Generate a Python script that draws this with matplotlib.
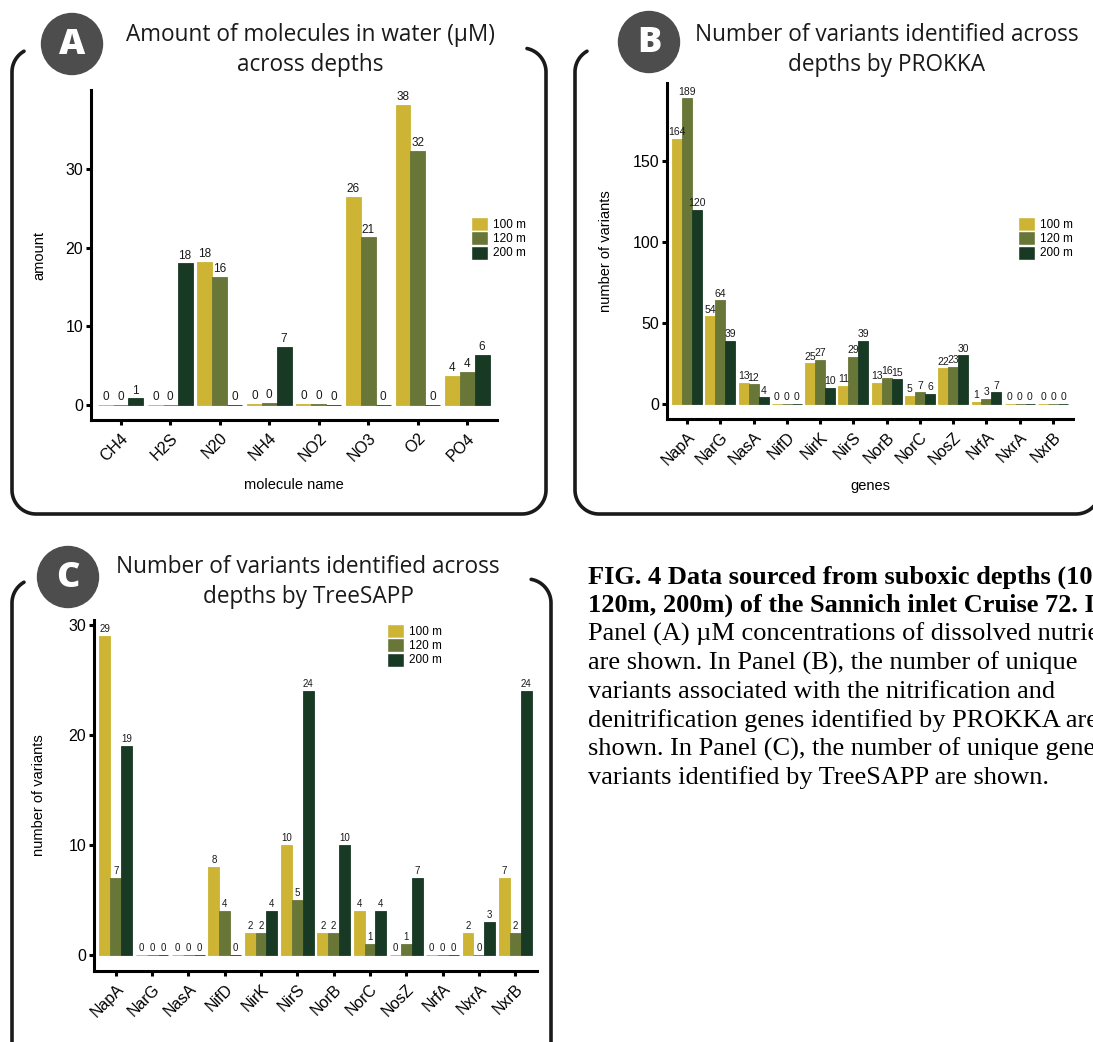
import numpy as np
import matplotlib
matplotlib.use('Agg')
import matplotlib.pyplot as plt
from matplotlib.patches import Patch, Circle

plt.rcParams['font.family'] = ['Liberation Sans', 'DejaVu Sans']

# depths and their fill colours
depths = ['100 m', '120 m', '200 m']
depth_colors = ['#cdb434', '#687638', '#183a24']

# panel A: dissolved molecules (uM)
molecules = ['CH4', 'H2S', 'N20', 'NH4', 'NO2', 'NO3', 'O2', 'PO4']
amount_100 = [0.02, 0.03, 18.2, 0.15, 0.15, 26.4, 38.1, 3.7]
amount_120 = [0.04, 0.04, 16.3, 0.25, 0.15, 21.3, 32.3, 4.2]
amount_200 = [0.85, 18.0, 0.04, 7.4, 0.05, 0.05, 0.04, 6.4]

# panels B and C: gene variants
genes = ['NapA', 'NarG', 'NasA', 'NifD', 'NirK', 'NirS',
         'NorB', 'NorC', 'NosZ', 'NrfA', 'NxrA', 'NxrB']
prokka_100 = [164, 54, 13, 0, 25, 11, 13, 5, 22, 1, 0, 0]
prokka_120 = [189, 64, 12, 0, 27, 29, 16, 7, 23, 3, 0, 0]
prokka_200 = [120, 39, 4, 0, 10, 39, 15, 6, 30, 7, 0, 0]

treesapp_100 = [29, 0, 0, 8, 2, 10, 2, 4, 0, 0, 2, 7]
treesapp_120 = [7, 0, 0, 4, 2, 5, 2, 1, 1, 0, 0, 2]
treesapp_200 = [19, 0, 0, 0, 4, 24, 10, 4, 7, 0, 3, 24]

caption = [
    ('FIG. 4 Data sourced from suboxic depths (100m,', 'bold'),
    ('120m, 200m) of the Sannich inlet Cruise 72. In', 'bold'),
    ('Panel (A) \u00b5M concentrations of dissolved nutrients', 'normal'),
    ('are shown. In Panel (B), the number of unique', 'normal'),
    ('variants associated with the nitrification and', 'normal'),
    ('denitrification genes identified by PROKKA are', 'normal'),
    ('shown. In Panel (C), the number of unique gene', 'normal'),
    ('variants identified by TreeSAPP are shown.', 'normal'),
]

W, H = 1093, 1042
fig = plt.figure(figsize=(W / 100, H / 100), dpi=100)

# full-figure layer in pixel units for frames, badges, titles, caption
ov = fig.add_axes([0, 0, 1, 1])
ov.set_xlim(0, W)
ov.set_ylim(H, 0)
ov.axis('off')


def arc(cx, cy, r, t0, t1):
    t = np.radians(np.linspace(t0, t1, 30))
    return np.column_stack([cx + r * np.cos(t), cy + r * np.sin(t)])


def frame(x0, y0, x1, y1, r=24, tl=240, tr=282):
    parts = [arc(x0 + r, y0 + r, r, tl, 180),
             arc(x0 + r, y1 - r, r, 180, 90),
             arc(x1 - r, y1 - r, r, 90, 0)]
    if tr is not None:
        parts.append(arc(x1 - r, y0 + r, r, 360, tr))
    pts = np.vstack(parts)
    ov.plot(pts[:, 0], pts[:, 1], color='#1a1a1a', lw=2.6,
            solid_capstyle='round', solid_joinstyle='round')


def badge(cx, cy, letter):
    ov.add_patch(Circle((cx, cy), 30.5, color='#4d4d4d'))
    ov.text(cx, cy + 1, letter, ha='center', va='center', color='white',
            fontsize=26, fontweight='heavy', family='Open Sans')


def title(cx, y1, y2, line1, line2):
    for y, s in ((y1, line1), (y2, line2)):
        ov.text(cx, y, s, ha='center', va='center', fontsize=16.3,
                family='Open Sans', color='#1a1a1a')


frame(12, 48, 546, 514)
frame(575, 48, 1100, 514, tr=None)
frame(12, 579, 551, 1075, tr=280)

badge(72, 44, 'A')
badge(649, 42, 'B')
badge(68, 577, 'C')

title(310, 35, 65, 'Amount of molecules in water (\u00b5M)', 'across depths')
title(887, 35, 65, 'Number of variants identified across', 'depths by PROKKA')
title(308, 567, 597, 'Number of variants identified across', 'depths by TreeSAPP')

for i, (line, weight) in enumerate(caption):
    ov.text(588, 577 + i * 28.7, line, ha='left', va='center',
            family='Liberation Serif', fontsize=19, fontweight=weight)


def px_axes(l, t, r, b):
    return fig.add_axes([l / W, 1 - b / H, (r - l) / W, (b - t) / H])


def grouped_bars(ax, cats, series, label_size, ylim, yticks):
    x = np.arange(len(cats))
    w = 0.3
    for i, (vals, c) in enumerate(zip(series, depth_colors)):
        pos = x + (i - 1) * w
        ax.bar(pos, vals, width=w, color=c, edgecolor=c, linewidth=0.6)
        for p, v in zip(pos, vals):
            ax.annotate('%d' % round(v), (p, v), xytext=(0, 1.2),
                        textcoords='offset points', ha='center', va='bottom',
                        fontsize=label_size, color='#1a1a1a')
    ax.set_xlim(-0.6, len(cats) - 0.4)
    ax.set_ylim(*ylim)
    ax.set_yticks(yticks)
    ax.set_xticks(x)
    ax.set_xticklabels(cats, rotation=45, ha='right', rotation_mode='anchor')
    for side in ('top', 'right'):
        ax.spines[side].set_visible(False)
    for side in ('left', 'bottom'):
        ax.spines[side].set_linewidth(2.2)
    ax.tick_params(width=2.2, length=3.5, labelsize=11.5, pad=2)
    ax.tick_params(axis='x', labelsize=11.5, pad=4)
    ax.patch.set_alpha(0)


def depth_legend(x, y, fs=8.5):
    handles = [Patch(facecolor=c, edgecolor='white', lw=1) for c in depth_colors]
    fig.legend(handles, depths, loc='upper left',
               bbox_to_anchor=(x / W, 1 - y / H), frameon=False,
               fontsize=fs, handlelength=1.45, handleheight=1.45,
               handletextpad=0.4, labelspacing=0.02, borderpad=0,
               borderaxespad=0)


# A
ax_a = px_axes(91, 90, 497, 420)
grouped_bars(ax_a, molecules, [amount_100, amount_120, amount_200], 8.5,
             (-1.9, 40.0), [0, 10, 20, 30])
ax_a.set_ylabel('amount', fontsize=10.5, labelpad=14)
ax_a.set_xlabel('molecule name', fontsize=10.5, labelpad=10)
depth_legend(471, 217)

# B
ax_b = px_axes(667, 83, 1073, 419)
grouped_bars(ax_b, genes, [prokka_100, prokka_120, prokka_200], 7.5,
             (-9.45, 198.45), [0, 50, 100, 150])
ax_b.set_ylabel('number of variants', fontsize=10.5, labelpad=14)
ax_b.set_xlabel('genes', fontsize=10.5, labelpad=8)
depth_legend(1018, 217)

# C
ax_c = px_axes(94, 620, 537, 971)
grouped_bars(ax_c, genes, [treesapp_100, treesapp_120, treesapp_200], 7,
             (-1.45, 30.45), [0, 10, 20, 30])
ax_c.set_ylabel('number of variants', fontsize=10.5, labelpad=16)
depth_legend(387, 624)

fig.savefig('out.png', dpi=100)
